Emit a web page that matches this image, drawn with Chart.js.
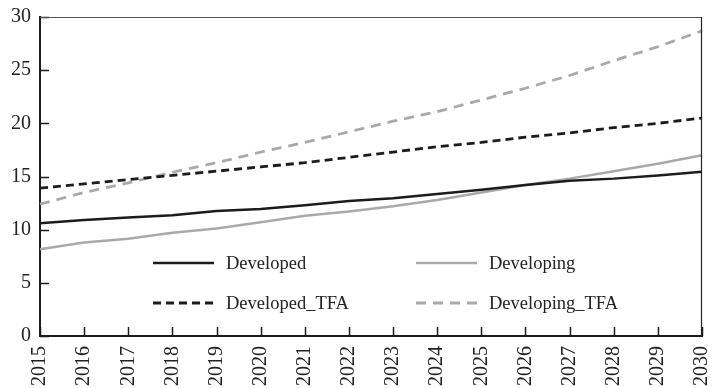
<!DOCTYPE html>
<html lang="en">
<head>
    <meta charset="UTF-8">
    <title>Developed vs Developing</title>
    <script src="https://cdn.jsdelivr.net/npm/chart.js"></script>
    <style>
        html, body {
            margin: 0;
            padding: 0;
            background: #ffffff;
        }
        #wrap {
            width: 712px;
            height: 388px;
        }
    </style>
</head>
<body>
    <div id="wrap">
        <canvas id="trendChart" width="712" height="388"></canvas>
    </div>

    <script>
        // Years on the x axis
        const years = ['2015', '2016', '2017', '2018', '2019', '2020', '2021', '2022',
                       '2023', '2024', '2025', '2026', '2027', '2028', '2029', '2030'];

        // Series values
        const developed = [10.6, 10.9, 11.15, 11.35, 11.75, 11.95, 12.3, 12.7,
                           12.95, 13.35, 13.75, 14.2, 14.6, 14.8, 15.1, 15.45];
        const developing = [8.15, 8.8, 9.15, 9.7, 10.1, 10.7, 11.3, 11.7,
                            12.2, 12.8, 13.5, 14.2, 14.8, 15.5, 16.2, 17.0];
        const developedTFA = [13.9, 14.3, 14.7, 15.1, 15.5, 15.9, 16.3, 16.8,
                              17.3, 17.8, 18.2, 18.7, 19.1, 19.6, 20.0, 20.5];
        const developingTFA = [12.4, 13.5, 14.4, 15.4, 16.3, 17.3, 18.2, 19.2,
                               20.2, 21.1, 22.2, 23.3, 24.5, 25.9, 27.2, 28.7];

        // Y axis ticks
        const yMin = 0;
        const yMax = 30;
        const yStep = 5;

        const BLACK = '#1c1c1c';
        const GREY = '#a9a9a9';
        const FONT = "'Liberation Serif', 'Times New Roman', serif";

        // Inward tick marks plus the thin frame on top and right
        const frameTicks = {
            id: 'frameTicks',
            afterDraw(chart) {
                const { ctx, chartArea: a, scales } = chart;
                ctx.save();
                ctx.strokeStyle = BLACK;
                ctx.lineWidth = 1.5;
                ctx.beginPath();
                scales.y.ticks.forEach((t, i) => {
                    const y = Math.round(scales.y.getPixelForTick(i)) + 0.5;
                    ctx.moveTo(a.left, y);
                    ctx.lineTo(a.left + 9, y);
                });
                scales.x.ticks.forEach((t, i) => {
                    const x = Math.round(scales.x.getPixelForTick(i)) + 0.5;
                    ctx.moveTo(x, a.bottom);
                    ctx.lineTo(x, a.bottom - 9);
                });
                ctx.stroke();

                // top and right edges of the box
                ctx.lineWidth = 1.2;
                ctx.strokeStyle = '#555555';
                ctx.beginPath();
                ctx.moveTo(a.left, a.top + 0.5);
                ctx.lineTo(a.right, a.top + 0.5);
                ctx.stroke();
                ctx.strokeStyle = '#222222';
                ctx.beginPath();
                ctx.moveTo(a.right - 0.5, a.top);
                ctx.lineTo(a.right - 0.5, a.bottom);
                ctx.stroke();
                ctx.restore();
            }
        };

        // Two-column legend drawn inside the plot area, bottom left
        const innerLegend = {
            id: 'innerLegend',
            afterDatasetsDraw(chart) {
                const { ctx, chartArea: a } = chart;
                const cols = [a.left + 113, a.left + 376];
                const rows = [a.bottom - 73, a.bottom - 33];
                const sampleLen = 61;
                ctx.save();
                ctx.font = '18.5px ' + FONT;
                ctx.textBaseline = 'middle';
                ctx.fillStyle = '#222222';
                chart.data.datasets.forEach((ds, i) => {
                    const x = cols[i % 2];
                    const y = rows[Math.floor(i / 2)];
                    ctx.strokeStyle = ds.borderColor;
                    ctx.lineWidth = ds.borderWidth;
                    ctx.setLineDash(ds.borderDash || []);
                    ctx.beginPath();
                    ctx.moveTo(x, y);
                    ctx.lineTo(x + sampleLen, y);
                    ctx.stroke();
                    ctx.setLineDash([]);
                    ctx.fillText(ds.label, x + sampleLen + 12, y + 1);
                });
                ctx.restore();
            }
        };

        const ctx = document.getElementById('trendChart').getContext('2d');

        new Chart(ctx, {
            type: 'line',
            data: {
                labels: years,
                datasets: [
                    {
                        label: 'Developed',
                        data: developed,
                        borderColor: BLACK,
                        borderWidth: 2.5
                    },
                    {
                        label: 'Developing',
                        data: developing,
                        borderColor: GREY,
                        borderWidth: 2.5
                    },
                    {
                        label: 'Developed_TFA',
                        data: developedTFA,
                        borderColor: BLACK,
                        borderWidth: 2.8,
                        borderDash: [8, 5]
                    },
                    {
                        label: 'Developing_TFA',
                        data: developingTFA,
                        borderColor: GREY,
                        borderWidth: 2.8,
                        borderDash: [10, 7]
                    }
                ]
            },
            options: {
                responsive: false,
                animation: false,
                layout: {
                    padding: { top: 17, right: 10, left: 0, bottom: 0 }
                },
                elements: {
                    point: { radius: 0 },
                    line: { tension: 0, fill: false }
                },
                plugins: {
                    legend: { display: false },
                    tooltip: { enabled: false }
                },
                scales: {
                    x: {
                        offset: false,
                        grid: { display: false, drawTicks: false },
                        border: { display: true, color: BLACK, width: 2 },
                        ticks: {
                            autoSkip: false,
                            maxRotation: 90,
                            minRotation: 90,
                            padding: 10,
                            color: '#222222',
                            font: { family: FONT, size: 20 }
                        },
                        afterFit(scale) {
                            scale.height = 52;
                            // no extra room for the rotated end labels
                            scale.paddingLeft = 0;
                            scale.paddingRight = 0;
                        }
                    },
                    y: {
                        min: yMin,
                        max: yMax,
                        grid: { display: false, drawTicks: false },
                        border: { display: true, color: BLACK, width: 2 },
                        ticks: {
                            stepSize: yStep,
                            padding: 9,
                            color: '#222222',
                            font: { family: FONT, size: 20 }
                        },
                        afterFit(scale) {
                            scale.width = 40;
                            scale.paddingTop = 0;
                            scale.paddingBottom = 0;
                        }
                    }
                }
            },
            plugins: [frameTicks, innerLegend]
        });
    </script>
</body>
</html>
